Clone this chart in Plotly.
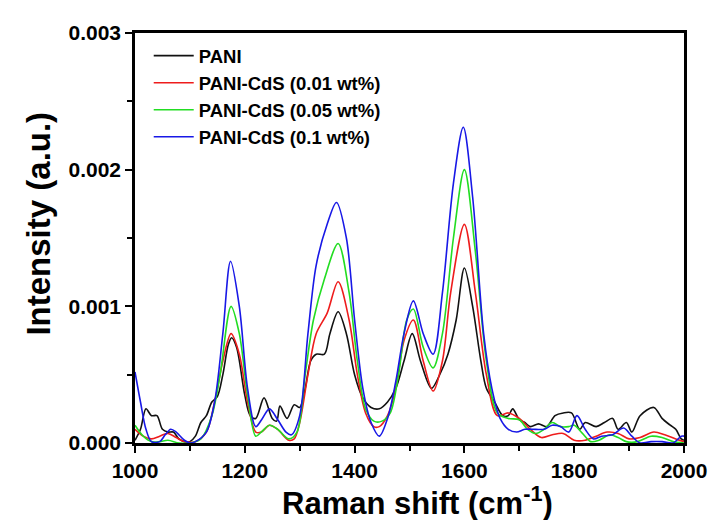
import plotly.graph_objects as go

# ---- data ----
pani_x = [1000, 1010, 1020, 1030, 1040, 1050, 1060, 1070, 1080, 1090, 1100, 1110, 1120, 1130, 1140, 1150,
          1160, 1170, 1176, 1185, 1200, 1210, 1220, 1235, 1250, 1258, 1264, 1277, 1290, 1300, 1310, 1320,
          1330, 1345, 1355, 1370, 1385, 1400, 1415, 1430, 1445, 1460, 1475, 1490, 1505, 1520, 1540, 1555,
          1570, 1585, 1600, 1615, 1630, 1640, 1655, 1670, 1680, 1688, 1700, 1710, 1720, 1735, 1750, 1765,
          1780, 1795, 1810, 1820, 1840, 1855, 1870, 1880, 1895, 1905, 1920, 1945, 1960, 1975, 1985, 1995, 2000]
pani_y = [0.00002, 0.0001, 0.00025, 0.0002, 0.0002, 0.0001, 0.00008, 0.00008, 0.00003, 0.00001, 0.00001,
          0.00005, 0.00015, 0.0002, 0.0003, 0.00034, 0.0005, 0.00072, 0.00077, 0.0007, 0.00035, 0.0002,
          0.00018, 0.00033, 0.00018, 0.00016, 0.00027, 0.00018, 0.00028, 0.00026, 0.0004, 0.0006, 0.00065,
          0.00065, 0.0008, 0.00096, 0.0008, 0.0005, 0.00033, 0.00026, 0.00025, 0.0003, 0.0004, 0.0006,
          0.0008, 0.0006, 0.0004, 0.0005, 0.00065, 0.0009, 0.00128, 0.001, 0.0006, 0.0004, 0.0003, 0.0002,
          0.0002, 0.00025, 0.00017, 0.00015, 0.00012, 0.00014, 0.00012, 0.0002, 0.00022, 0.00022, 0.0001,
          0.00015, 0.00012, 0.00015, 0.00018, 0.0001, 0.00015, 0.00008, 0.0002, 0.00026, 0.00018, 0.00013,
          0.0001, 0.00003, 0.00002]

red_x = [1000, 1015, 1030, 1045, 1060, 1075, 1090, 1110, 1130, 1145, 1160, 1175, 1190, 1205, 1220, 1230,
         1245, 1260, 1280, 1290, 1300, 1315, 1330, 1350, 1370, 1390, 1405, 1420, 1435, 1445, 1460, 1475,
         1490, 1507, 1525, 1543, 1560, 1575, 1600, 1620, 1640, 1660, 1680, 1700, 1720, 1740, 1760, 1780,
         1800, 1820, 1840, 1860, 1880, 1900, 1920, 1945, 1965, 1985, 2000]
red_y = [0.0001, 0.00005, 0.00003, 0.00005, 0.00007, 0.00004, 0.00001, 0.00001, 0.00008, 0.0003, 0.0006,
         0.0008, 0.00065, 0.0003, 0.00008, 0.00008, 0.00013, 0.0001, 0.00002, 0.00003, 0.00015, 0.0005,
         0.0008, 0.00095, 0.00118, 0.0009, 0.0005, 0.00022, 0.00012, 0.00012, 0.0002, 0.0004, 0.00075,
         0.0009, 0.0006, 0.00038, 0.0006, 0.0011, 0.0016, 0.0011, 0.0005, 0.0002, 0.00022, 0.00018, 0.0001,
         0.00004, 0.00006, 0.00007, 0.00002, 0.00002, 0.00005, 0.00008, 0.00007, 0.00003, 0.00004, 0.00008,
         0.00006, 0.00003, 0.00001]

green_x = [1000, 1015, 1030, 1045, 1060, 1080, 1100, 1120, 1140, 1155, 1175, 1190, 1205, 1220, 1230, 1245,
           1260, 1280, 1295, 1310, 1325, 1345, 1370, 1390, 1405, 1420, 1435, 1450, 1465, 1480, 1495, 1507,
           1525, 1543, 1560, 1580, 1600, 1620, 1640, 1660, 1680, 1700, 1715, 1730, 1745, 1760, 1775, 1790,
           1800, 1815, 1830, 1845, 1865, 1880, 1895, 1915, 1940, 1960, 1980, 2000]
green_y = [0.00013, 0.00005, 0.00001, 0.00001, 0.00002, 0.0, 0.0, 0.00003, 0.0002, 0.0005, 0.001, 0.0008,
           0.00035, 0.00005, 0.00008, 0.00013, 0.0001, 0.00003, 0.00008, 0.0005, 0.0009, 0.0012, 0.00146,
           0.0011, 0.0006, 0.00025, 0.00016, 0.00016, 0.00022, 0.0005, 0.0009, 0.00098, 0.0007, 0.00055,
           0.0008, 0.0015, 0.002, 0.0014, 0.0006, 0.00022, 0.00018, 0.00017, 0.0001, 0.00007, 0.0001,
           0.00015, 0.00012, 0.00012, 0.00013, 0.00007, 0.00001, 0.00002, 0.00006, 0.00004, 0.00001,
           0.00001, 0.00005, 0.00004, 0.00001, 0.0]

blue_x = [1000, 1010, 1020, 1030, 1045, 1055, 1065, 1075, 1090, 1100, 1110, 1130, 1145, 1160, 1174, 1190,
          1205, 1220, 1232, 1245, 1260, 1275, 1285, 1300, 1315, 1330, 1350, 1367, 1385, 1400, 1415, 1430,
          1445, 1460, 1475, 1490, 1507, 1525, 1543, 1560, 1580, 1598, 1615, 1635, 1650, 1665, 1680, 1695,
          1710, 1730, 1745, 1760, 1775, 1790, 1805, 1820, 1835, 1850, 1870, 1890, 1905, 1920, 1940, 1960,
          1980, 1995, 2000]
blue_y = [0.00052, 0.0003, 0.0001, 0.00001, 0.00001, 0.00006, 0.0001, 0.00008, 0.00002, 0.0, 0.00001,
          0.00008, 0.0003, 0.0008, 0.00133, 0.001, 0.0004, 0.00012, 0.00018, 0.00025, 0.00017, 0.00008,
          0.00006, 0.0002, 0.0008, 0.0013, 0.0016, 0.00176, 0.0015, 0.0009, 0.0004, 0.00015, 0.00005,
          0.00018, 0.00045, 0.0008, 0.00104, 0.0008, 0.00065, 0.0011, 0.0019, 0.00231, 0.0018, 0.0008,
          0.0004, 0.00018, 0.0001, 0.00008, 0.0001, 0.0001, 0.0001, 0.00013, 0.00012, 0.00008, 0.0002,
          0.0001, 0.00003, 0.00005, 0.00006, 0.00011, 0.00005, 0.0, 0.00001, 0.00001, 0.0, 0.00005, 0.00005]

series_names = ["PANI", "PANI-CdS (0.01 wt%)", "PANI-CdS (0.05 wt%)", "PANI-CdS (0.1 wt%)"]
series_colors = ["#111111", "#ee1c1c", "#22dd22", "#1818e6"]

x_tick_vals = [1000, 1200, 1400, 1600, 1800, 2000]
y_tick_vals = [0.000, 0.001, 0.002, 0.003]
y_tick_text = ["0.000", "0.001", "0.002", "0.003"]

x_title = "<b>Raman shift (cm<sup>-1</sup>)</b>"
y_title = "<b>Intensity (a.u.)</b>"

FONT = "Liberation Sans, Arial, sans-serif"

fig = go.Figure()
for xs, ys, name, col in zip([pani_x, red_x, green_x, blue_x],
                             [pani_y, red_y, green_y, blue_y],
                             series_names, series_colors):
    fig.add_trace(go.Scatter(x=xs, y=ys, mode="lines", name=name,
                             line=dict(color=col, width=1.6, shape="spline", smoothing=0.9)))

axis_common = dict(showline=True, linecolor="black", linewidth=2.5, mirror=True,
                   ticks="outside", tickcolor="black", tickwidth=2, ticklen=7,
                   showgrid=False, zeroline=False,
                   tickfont=dict(family=FONT, size=21, color="black", weight="bold"))

fig.update_xaxes(range=[1000, 2000], tickvals=x_tick_vals,
                 minor=dict(dtick=100, tick0=1000, ticks="outside", ticklen=5, tickwidth=2, tickcolor="black"),
                 **axis_common)
fig.update_yaxes(range=[0, 0.003], tickvals=y_tick_vals, ticktext=y_tick_text,
                 minor=dict(dtick=0.0005, tick0=0, ticks="outside", ticklen=5, tickwidth=2, tickcolor="black"),
                 **axis_common)

fig.add_annotation(text=x_title, xref="paper", yref="paper", x=0.515, y=-0.142,
                   xanchor="center", yanchor="middle", showarrow=False,
                   font=dict(family=FONT, size=31, color="black"))
fig.add_annotation(text=y_title, xref="paper", yref="paper", x=-0.175, y=0.535,
                   xanchor="center", yanchor="middle", showarrow=False, textangle=-90,
                   font=dict(family=FONT, size=33, color="black"))

fig.update_layout(
    width=719, height=520,
    margin=dict(l=135, r=29, t=33, b=77),
    paper_bgcolor="white", plot_bgcolor="white",
    showlegend=True,
    legend=dict(x=0.025, y=0.99, xanchor="left", yanchor="top",
                bgcolor="rgba(0,0,0,0)", borderwidth=0, itemwidth=40,
                font=dict(family=FONT, size=18.5, color="black", weight="bold"),
                tracegroupgap=0),
)

fig.write_html("out.html")
